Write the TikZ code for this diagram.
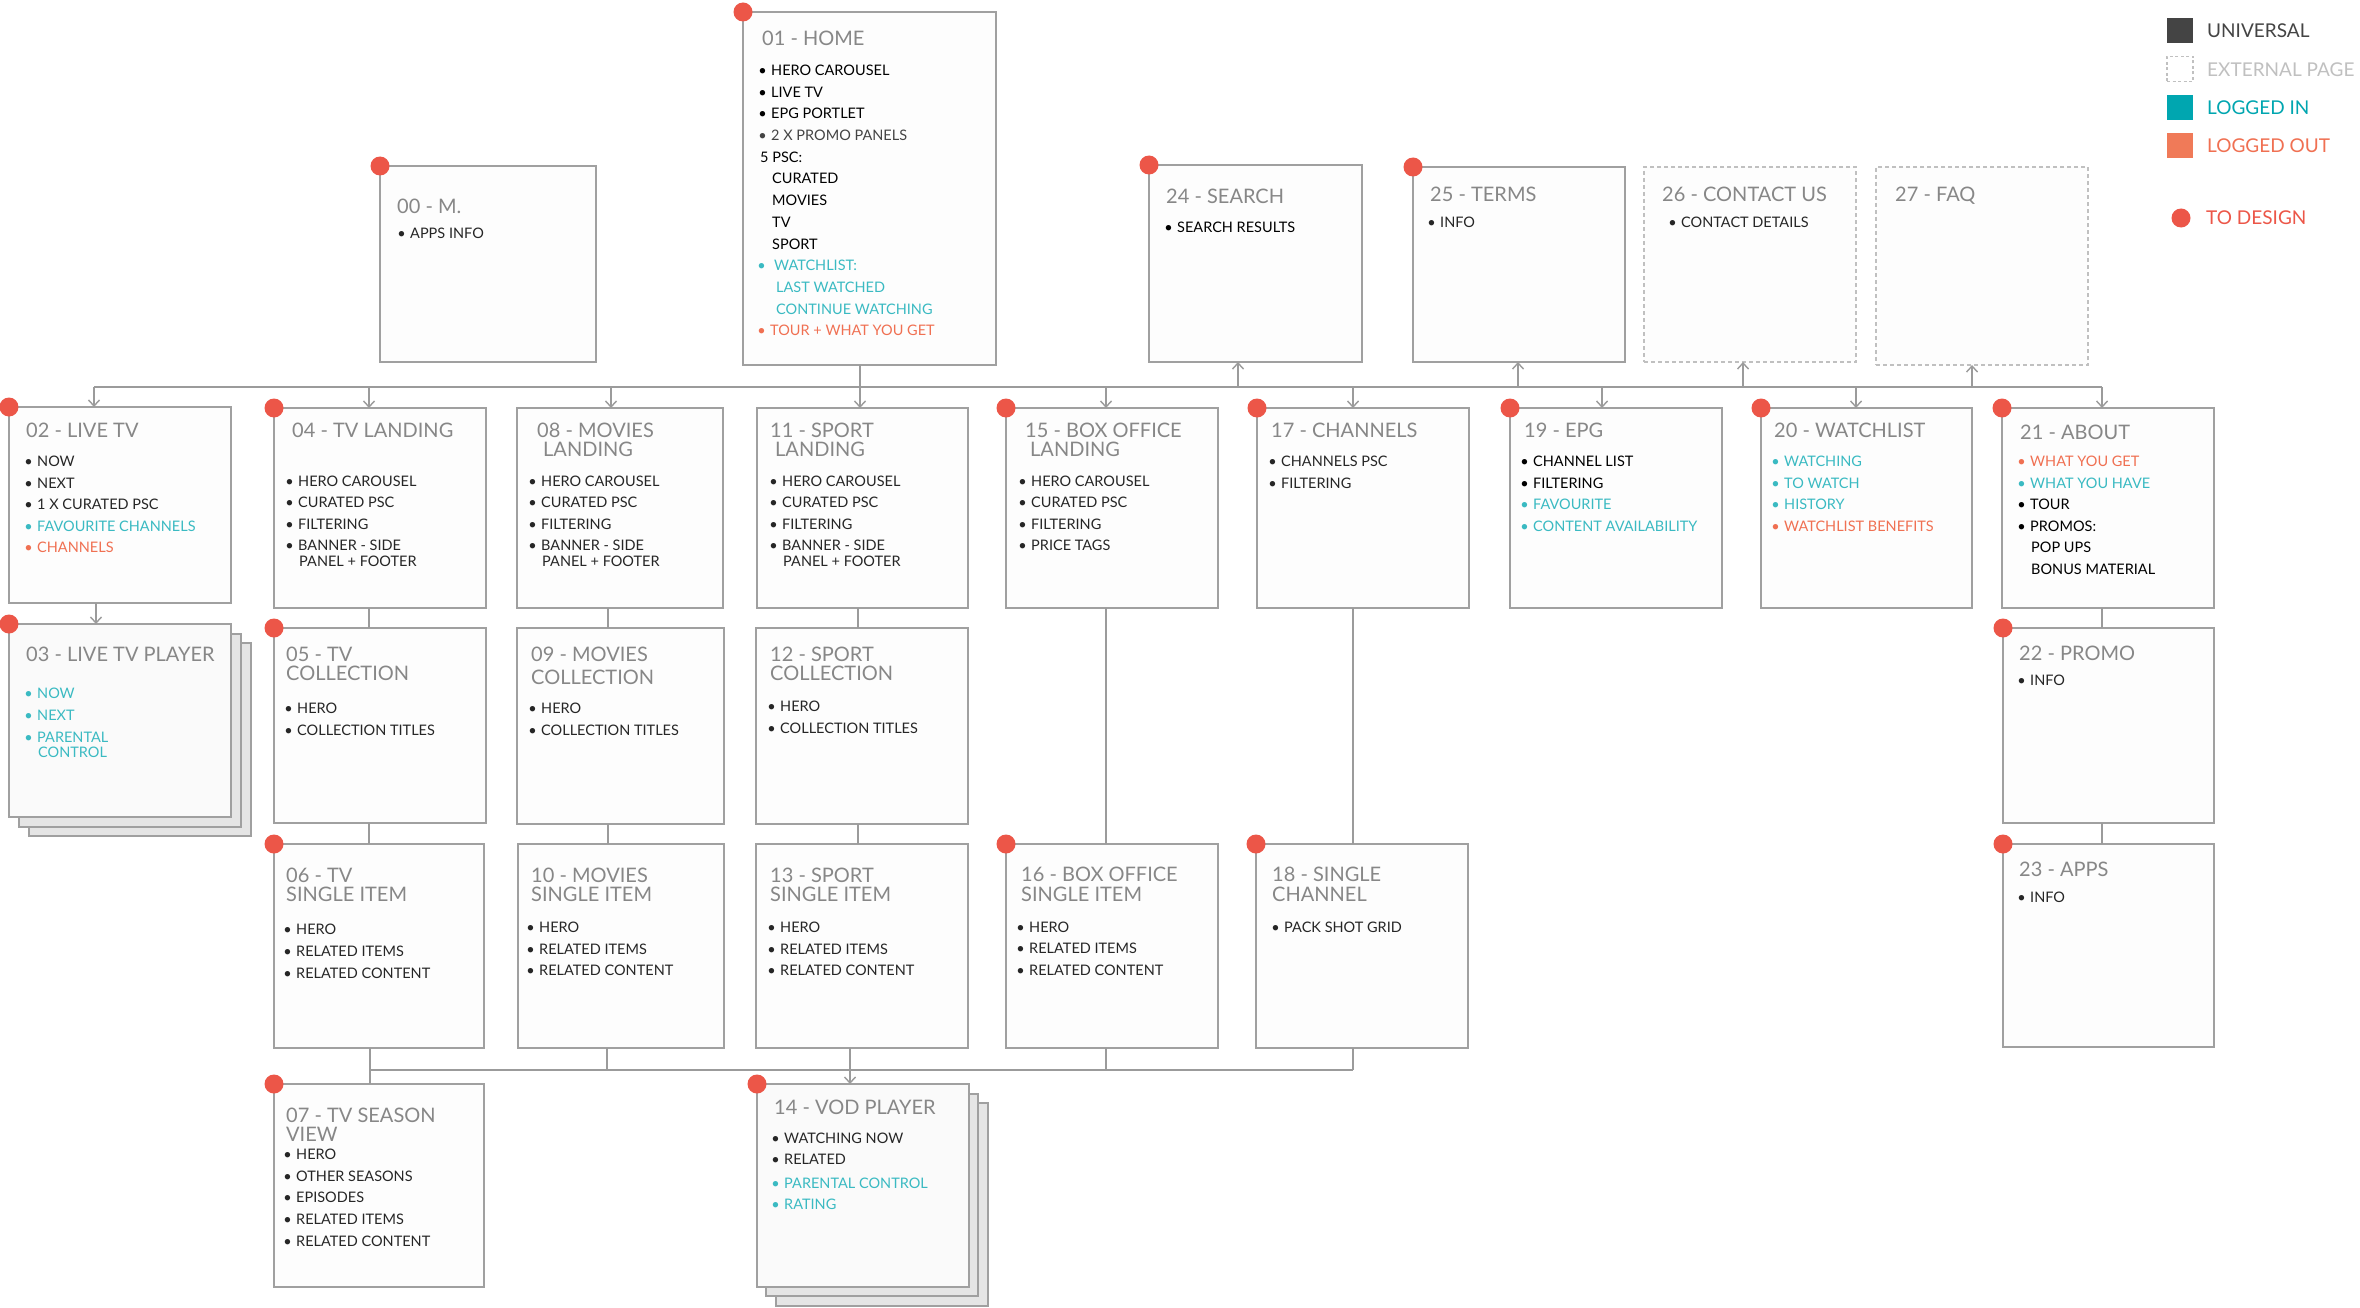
\documentclass[tikz,border=0pt]{standalone}
\usepackage{fontspec}
\setmainfont{Lato}
\usetikzlibrary{arrows.meta}
\definecolor{boxgray}{RGB}{160,160,160}
\definecolor{linegray}{RGB}{155,155,155}
\definecolor{boxfill}{RGB}{253,253,253}
\definecolor{playfill}{RGB}{250,250,250}
\definecolor{sheetgray}{RGB}{229,229,229}
\definecolor{titlegray}{RGB}{135,135,135}
\definecolor{ink}{RGB}{38,38,38}
\definecolor{tealt}{RGB}{58,186,194}
\definecolor{orng}{RGB}{240,112,82}
\definecolor{reddot}{RGB}{236,86,72}
\definecolor{extgray}{RGB}{192,192,192}
\definecolor{univ}{RGB}{68,68,68}
\definecolor{teals}{RGB}{0,166,176}
\definecolor{orngs}{RGB}{240,122,88}
\newcounter{tn}
\newcommand\pg[6][]{\node[pagebox,#1,anchor=north west,minimum width={#5-#3},minimum height={#6-#4}] (#2) at (#3,#4) {};}
\newcommand\Tl[3]{\stepcounter{tn}\node[ttl] (t\arabic{tn}) at (#1,#2) {#3};}
\newcommand\bi[4][ink]{\stepcounter{tn}\node[itm,text=#1] (t\arabic{tn}) at (#2,#3) {\llap{\textbullet\hspace{4.5pt}}#4};}
\newcommand\nb[4][ink]{\stepcounter{tn}\node[itm,text=#1] (t\arabic{tn}) at (#2,#3) {#4};}
\newcommand\reddotat[2]{\node[rdot] (#1) at (#2) {};}
\begin{document}
\begin{tikzpicture}[x=1pt,y=-1pt,
  pagebox/.style={draw=boxgray,line width=1.8pt,fill=boxfill,inner sep=0pt,outer sep=0pt},
  sheet/.style={fill=sheetgray},
  player/.style={fill=playfill},
  extbox/.style={draw=extgray,line width=1.5pt,dash pattern=on 4pt off 3pt},
  ln/.style={draw=linegray,line width=1.6pt},
  arr/.style={ln,-{Straight Barb[length=6pt,width=11pt,line width=1.4pt]}},
  ttl/.style={anchor=base west,inner sep=0pt,text=titlegray,font=\fontsize{20}{22}\selectfont},
  itm/.style={anchor=base west,inner sep=0pt,font=\fontsize{14.5}{16}\selectfont},
  lgt/.style={anchor=base west,inner sep=0pt,font=\fontsize{19}{21}\selectfont},
  lgsq/.style={minimum width=26pt,minimum height=25pt,inner sep=0pt,outer sep=0pt},
  rdot/.style={circle,fill=reddot,minimum size=19pt,inner sep=0pt}]
\useasboundingbox (0,0) rectangle (2360,1308);
\fill[white] (0,0) rectangle (2360,1308);
% ---------- boxes ----------
\pg{n00}{380}{166}{596}{362}
\pg{n01}{743}{12}{996}{365}
\pg{n24}{1149}{165}{1362}{362}
\pg{n25}{1413}{167}{1625}{362}
\pg[extbox]{n26}{1644}{167}{1856}{362}
\pg[extbox]{n27}{1876}{167}{2088}{365}
\pg{n02}{9}{407}{231}{603}
\pg[sheet]{n03c}{29}{643}{251}{836}
\pg[sheet]{n03b}{19}{634}{241}{827}
\pg[player]{n03}{9}{624}{231}{817}
\pg{n04}{274}{408}{486}{608}
\pg{n05}{274}{628}{486}{823}
\pg{n06}{274}{844}{484}{1048}
\pg{n07}{274}{1084}{484}{1287}
\pg{n08}{517}{408}{723}{608}
\pg{n09}{517}{628}{724}{824}
\pg{n10}{518}{844}{724}{1048}
\pg{n11}{757}{408}{968}{608}
\pg{n12}{756}{628}{968}{824}
\pg{n13}{756}{844}{968}{1048}
\pg[sheet]{n14c}{776}{1103}{988}{1306}
\pg[sheet]{n14b}{766}{1094}{978}{1296}
\pg[player]{n14}{757}{1084}{969}{1287}
\pg{n15}{1006}{408}{1218}{608}
\pg{n16}{1006}{844}{1218}{1048}
\pg{n17}{1257}{408}{1469}{608}
\pg{n18}{1256}{844}{1468}{1048}
\pg{n19}{1510}{408}{1722}{608}
\pg{n20}{1761}{408}{1972}{608}
\pg{n21}{2002}{408}{2214}{608}
\pg{n22}{2003}{628}{2214}{823}
\pg{n23}{2003}{844}{2214}{1047}
% ---------- connectors ----------
\coordinate (c02) at (94,387);
\coordinate (c04) at (369,387);
\coordinate (c08) at (611,387);
\coordinate (c11) at (860,387);
\coordinate (c15) at (1106,387);
\coordinate (c17) at (1353,387);
\coordinate (c19) at (1602,387);
\coordinate (c20) at (1856,387);
\coordinate (c21) at (2102,387);
\coordinate (c24) at (1238,387);
\coordinate (c25) at (1518,387);
\coordinate (c26) at (1743,387);
\coordinate (c27) at (1972,387);
\draw[ln] (c02) -- (c21);
\draw[arr] (c11 |- n01.south) -- (c11 |- n11.north);
\foreach \k in {02,04,08,15,17,19,20,21}{\draw[arr] (c\k) -- (c\k |- n\k.north);}
\foreach \k in {24,25,26,27}{\draw[arr] (c\k) -- (c\k |- n\k.south);}
\coordinate (x96) at (96,0);
\coordinate (x369) at (369,0);
\coordinate (x370) at (370,0);
\coordinate (x608) at (608,0);
\coordinate (x607) at (607,0);
\coordinate (x858) at (858,0);
\coordinate (x850) at (850,0);
\coordinate (x1106) at (1106,0);
\coordinate (x1353) at (1353,0);
\coordinate (x2102) at (2102,0);
\draw[arr] (x96 |- n02.south) -- (x96 |- n03.north);
\draw[ln] (x369 |- n04.south) -- (x369 |- n05.north);
\draw[ln] (x369 |- n05.south) -- (x369 |- n06.north);
\draw[ln] (x608 |- n08.south) -- (x608 |- n09.north);
\draw[ln] (x608 |- n09.south) -- (x608 |- n10.north);
\draw[ln] (x858 |- n11.south) -- (x858 |- n12.north);
\draw[ln] (x858 |- n12.south) -- (x858 |- n13.north);
\draw[ln] (x1106 |- n15.south) -- (x1106 |- n16.north);
\draw[ln] (x1353 |- n17.south) -- (x1353 |- n18.north);
\draw[ln] (x2102 |- n21.south) -- (x2102 |- n22.north);
\draw[ln] (x2102 |- n22.south) -- (x2102 |- n23.north);
\coordinate (bb1) at (370,1070);
\coordinate (bb5) at (1353,1070);
\draw[ln] (bb1) -- (bb5);
\draw[ln] (x370 |- n06.south) -- (x370 |- n07.north);
\draw[ln] (x607 |- n10.south) -- (x607 |- bb1);
\draw[arr] (x850 |- n13.south) -- (x850 |- n14.north);
\draw[ln] (x1106 |- n16.south) -- (x1106 |- bb1);
\draw[ln] (x1353 |- n18.south) -- (bb5);
% ---------- red dots ----------
\foreach \k in {00,01,24,25,02,03,04,05,06,07,14,15,16,17,18,19,20,21,22,23}{\reddotat{d\k}{n\k.north west}}
% ---------- texts ----------
% 01 HOME
\Tl{762}{46}{01 - HOME}
\bi[black]{771}{76}{HERO CAROUSEL}
\bi[black]{771}{98}{LIVE TV}
\bi[black]{771}{119}{EPG PORTLET}
\bi[univ]{771}{141}{2 X PROMO PANELS}
\nb[black]{760}{163}{5 PSC:}
\nb[black]{772}{184}{CURATED}
\nb[black]{772}{206}{MOVIES}
\nb[black]{772}{227}{TV}
\nb[black]{772}{249}{SPORT}
\bi[tealt]{770}{270}{\hspace{4pt}WATCHLIST:}
\nb[tealt]{776}{292}{LAST WATCHED}
\nb[tealt]{776}{314}{CONTINUE WATCHING}
\bi[orng]{770}{335}{TOUR + WHAT YOU GET}
% 00
\Tl{397}{214}{00 - M.}
\bi{410}{238}{APPS INFO}
% 24-27
\Tl{1166}{204}{24 - SEARCH}
\bi[black]{1177}{233}{SEARCH RESULTS}
\Tl{1430}{201}{25 - TERMS}
\bi{1440}{227}{INFO}
\Tl{1662}{201}{26 - CONTACT US}
\bi{1681}{227}{CONTACT DETAILS}
\Tl{1895}{201}{27 - FAQ}
% 02
\Tl{26}{437}{02 - LIVE TV}
\bi{37}{466}{NOW}
\bi{37}{488}{NEXT}
\bi{37}{509}{1 X CURATED PSC}
\bi[tealt]{37}{531}{FAVOURITE CHANNELS}
\bi[orng]{37}{552}{CHANNELS}
% 03
\Tl{26}{661}{03 - LIVE TV PLAYER}
\bi[tealt]{37}{698}{NOW}
\bi[tealt]{37}{720}{NEXT}
\bi[tealt]{37}{742}{PARENTAL}
\nb[tealt]{38}{757}{CONTROL}
% 04
\Tl{292}{437}{04 - TV LANDING}
\bi{298}{486}{HERO CAROUSEL}
\bi{298}{507}{CURATED PSC}
\bi{298}{529}{FILTERING}
\bi{298}{550}{BANNER - SIDE}
\nb{299}{566}{PANEL + FOOTER}
% 05
\Tl{286}{661}{05 - TV}
\Tl{286}{680}{COLLECTION}
\bi{297}{713}{HERO}
\bi{297}{735}{COLLECTION TITLES}
% 06
\Tl{286}{882}{06 - TV}
\Tl{286}{901}{SINGLE ITEM}
\bi{296}{934}{HERO}
\bi{296}{956}{RELATED ITEMS}
\bi{296}{978}{RELATED CONTENT}
% 07
\Tl{286}{1122}{07 - TV SEASON}
\Tl{286}{1141}{VIEW}
\bi{296}{1159}{HERO}
\bi{296}{1181}{OTHER SEASONS}
\bi{296}{1202}{EPISODES}
\bi{296}{1224}{RELATED ITEMS}
\bi{296}{1246}{RELATED CONTENT}
% 08
\Tl{537}{437}{08 - MOVIES}
\Tl{543}{456}{LANDING}
\bi{541}{486}{HERO CAROUSEL}
\bi{541}{507}{CURATED PSC}
\bi{541}{529}{FILTERING}
\bi{541}{550}{BANNER - SIDE}
\nb{542}{566}{PANEL + FOOTER}
% 09
\Tl{531}{661}{09 - MOVIES}
\Tl{531}{684}{COLLECTION}
\bi{541}{713}{HERO}
\bi{541}{735}{COLLECTION TITLES}
% 10
\Tl{531}{882}{10 - MOVIES}
\Tl{531}{901}{SINGLE ITEM}
\bi{539}{932}{HERO}
\bi{539}{954}{RELATED ITEMS}
\bi{539}{975}{RELATED CONTENT}
% 11
\Tl{770}{437}{11 - SPORT}
\Tl{775}{456}{LANDING}
\bi{782}{486}{HERO CAROUSEL}
\bi{782}{507}{CURATED PSC}
\bi{782}{529}{FILTERING}
\bi{782}{550}{BANNER - SIDE}
\nb{783}{566}{PANEL + FOOTER}
% 12
\Tl{770}{661}{12 - SPORT}
\Tl{770}{680}{COLLECTION}
\bi{780}{711}{HERO}
\bi{780}{733}{COLLECTION TITLES}
% 13
\Tl{770}{882}{13 - SPORT}
\Tl{770}{901}{SINGLE ITEM}
\bi{780}{932}{HERO}
\bi{780}{954}{RELATED ITEMS}
\bi{780}{975}{RELATED CONTENT}
% 14
\Tl{774}{1114}{14 - VOD PLAYER}
\bi{784}{1143}{WATCHING NOW}
\bi{784}{1164}{RELATED}
\bi[tealt]{784}{1188}{PARENTAL CONTROL}
\bi[tealt]{784}{1209}{RATING}
% 15
\Tl{1025}{437}{15 - BOX OFFICE}
\Tl{1030}{456}{LANDING}
\bi{1031}{486}{HERO CAROUSEL}
\bi{1031}{507}{CURATED PSC}
\bi{1031}{529}{FILTERING}
\bi{1031}{550}{PRICE TAGS}
% 16
\Tl{1021}{881}{16 - BOX OFFICE}
\Tl{1021}{901}{SINGLE ITEM}
\bi{1029}{932}{HERO}
\bi{1029}{953}{RELATED ITEMS}
\bi{1029}{975}{RELATED CONTENT}
% 17
\Tl{1271}{437}{17 - CHANNELS}
\bi{1281}{466}{CHANNELS PSC}
\bi{1281}{488}{FILTERING}
% 18
\Tl{1272}{881}{18 - SINGLE}
\Tl{1272}{901}{CHANNEL}
\bi{1284}{932}{PACK SHOT GRID}
% 19
\Tl{1524}{437}{19 - EPG}
\bi[black]{1533}{466}{CHANNEL LIST}
\bi[black]{1533}{488}{FILTERING}
\bi[tealt]{1533}{509}{FAVOURITE}
\bi[tealt]{1533}{531}{CONTENT AVAILABILITY}
% 20
\Tl{1774}{437}{20 - WATCHLIST}
\bi[tealt]{1784}{466}{WATCHING}
\bi[tealt]{1784}{488}{TO WATCH}
\bi[tealt]{1784}{509}{HISTORY}
\bi[orng]{1784}{531}{WATCHLIST BENEFITS}
% 21
\Tl{2020}{439}{21 - ABOUT}
\bi[orng]{2030}{466}{WHAT YOU GET}
\bi[tealt]{2030}{488}{WHAT YOU HAVE}
\bi[black]{2030}{509}{TOUR}
\bi[black]{2030}{531}{PROMOS:}
\nb[black]{2031}{552}{POP UPS}
\nb[black]{2031}{574}{BONUS MATERIAL}
% 22, 23
\Tl{2019}{660}{22 - PROMO}
\bi{2030}{685}{INFO}
\Tl{2019}{876}{23 - APPS}
\bi{2030}{902}{INFO}
% ---------- legend ----------
\node[lgsq,fill=univ] (lg1) at (2180,30.5) {};
\node[lgsq,draw=extgray,line width=1.3pt,dash pattern=on 3pt off 2.5pt] (lg2) at (2180,69) {};
\node[lgsq,fill=teals] (lg3) at (2180,108) {};
\node[lgsq,fill=orngs] (lg4) at (2180,146) {};
\node[rdot] (lg5) at (2181,218) {};
\node[lgt,text=univ] (lt1) at (2207,38) {UNIVERSAL};
\node[lgt,text=extgray] (lt2) at (2207,77) {EXTERNAL PAGE};
\node[lgt,text=teals] (lt3) at (2207,115) {LOGGED IN};
\node[lgt,text=orng] (lt4) at (2207,153) {LOGGED OUT};
\node[lgt,text=reddot] (lt5) at (2206,225) {TO DESIGN};
\end{tikzpicture}
\end{document}
